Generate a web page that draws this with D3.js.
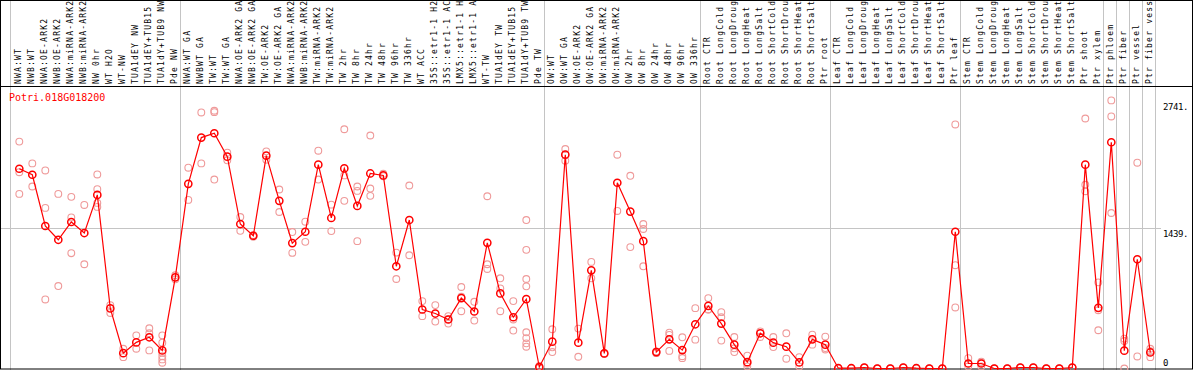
<!DOCTYPE html>
<html>
<head>
<meta charset="utf-8">
<script src="https://cdn.jsdelivr.net/npm/d3@7"></script>
<style>
  body { margin: 0; background: #fff; }
  svg { display: block; }
  text { font-family: "DejaVu Sans Mono", monospace; }
</style>
</head>
<body>
<div id="chart"></div>
<script>
// sample names, one per column
const categories = [
  "NWA:WT", "NWB:WT", "NWA:OE-ARK2", "NWB:OE-ARK2", "NWA:miRNA-ARK2", "NWB:miRNA-ARK2",
  "NW 0hr", "WT H2O", "WT-NW", "TUA1dEY NW", "TUA1dEY+TUB15 NW", "TUA1dY+TUB9 NW", "Pde NW",
  "NWA:WT GA", "NWBWT GA", "TW:WT", "TW:WT GA", "NWA:OE-ARK2 GA", "NWB:OE-ARK2 GA",
  "TW:OE-ARK2", "TW:OE-ARK2 GA", "NWA:miRNA-ARK2", "NWB:miRNA-ARK2", "TW:miRNA-ARK2",
  "TW:miRNA-ARK2", "TW 2hr", "TW 8hr", "TW 24hr", "TW 48hr", "TW 96hr", "TW 336hr",
  "WT ACC", "35S::etr1-1 H2O", "35S::etr1-1 ACC", "LMX5::etr1-1 H2O", "LMX5::etr1-1 ACC",
  "WT-TW", "TUA1dEY TW", "TUA1dEY+TUB15 TW", "TUA1dY+TUB9 TW", "Pde TW",
  "OW:WT", "OW:WT GA", "OW:OE-ARK2", "OW:OE-ARK2 GA", "OW:miRNA-ARK2", "OW:miRNA-ARK2",
  "OW 2hr", "OW 8hr", "OW 24hr", "OW 48hr", "OW 96hr", "OW 336hr",
  "Root CTR", "Root LongCold", "Root LongDrought", "Root LongHeat", "Root LongSalt",
  "Root ShortCold", "Root ShortDrought", "Root ShortHeat", "Root ShortSalt", "Ptr root",
  "Leaf CTR", "Leaf LongCold", "Leaf LongDrought", "Leaf LongHeat", "Leaf LongSalt",
  "Leaf ShortCold", "Leaf ShortDrought", "Leaf ShortHeat", "Leaf ShortSalt", "Ptr leaf",
  "Stem CTR", "Stem LongCold", "Stem LongDrought", "Stem LongHeat", "Stem LongSalt",
  "Stem ShortCold", "Stem ShortDrought", "Stem ShortHeat", "Stem ShortSalt", "Ptr shoot",
  "Ptr xylem", "Ptr phloem", "Ptr fiber", "Ptr vessel", "Ptr fiber vessel"
];

// mean expression per sample
const means = [
  2042, 1981, 1457, 1316, 1498, 1385, 1775, 614, 157, 267,
  319, 185, 932, 1888, 2361, 2405, 2166, 1477, 1357, 2176,
  1714, 1282, 1398, 2084, 1539, 2046, 1662, 1994, 1974, 1045,
  1518, 603, 562, 501, 720, 583, 1285, 768, 524, 709,
  15, 274, 2186, 264, 1004, 154, 1899, 1604, 1302, 168,
  298, 188, 452, 640, 459, 244, 65, 360, 264, 223,
  62, 298, 244, 3, 3, 10, 0, 0, 10, 3,
  0, 0, 1398, 51, 51, 0, 0, 10, 10, 0,
  0, 10, 2084, 620, 2313, 182, 1117, 164
];

// individual replicates per sample
const replicates = [
  [2320, 2007, 1785], [2097, 1861], [2025, 1642, 706], [1785, 843], [1755, 1545, 1179],
  [1672, 1066], [1984, 1833, 1693, 1652], [648, 568], [202, 116], [339, 202],
  [411, 360, 185], [339, 264, 161, 126, 93, 59], [953, 912], [2053, 1724], [2618, 2097],
  [2635, 2621, 1932], [2207, 2128], [1549, 1408], [1364, 1347], [2220, 2135],
  [1830, 1600], [1395, 1182], [1501, 1295], [2227, 1932], [1675, 1405],
  [2446, 1974, 1714], [1861, 1816, 1302], [2382, 1840, 1765], [1991, 1966], [1185, 915],
  [1871, 1158], [689, 535], [648, 480], [535, 504, 459], [833, 733, 586],
  [682, 490], [1761, 1066, 1018], [922, 819, 586], [689, 501, 388],
  [1518, 1213, 915, 840, 370, 311, 257, 223],
  [25, 15, 5], [401, 216, 168], [2244, 2186, 2125], [408, 120], [1090, 922],
  [157, 147], [2186, 1611], [1970, 1241], [1477, 1426, 1045], [175, 157],
  [367, 344, 180], [319, 126, 106], [617, 295], [720, 603, 603], [576, 524, 285],
  [322, 206, 168], [131, 48, 21], [380, 322], [322, 219], [360, 100],
  [116, 21], [346, 244], [326, 209, 195], [5, 2], [4, 2],
  [12, 8], [1, 0], [1, 0], [12, 8], [5, 2],
  [1, 0], [1, 0], [2495, 1056, 624], [106, 21], [70, 62, 21],
  [1, 0], [1, 0], [12, 8], [12, 8], [1, 0],
  [1, 0], [12, 8], [2556, 1878, 1812], [881, 596, 391], [2741, 2577, 1590],
  [305, 281, 0], [2104, 123], [202, 178, 116]
];

// columns where a new tissue group starts
const groupBreaks = [0, 13, 41, 53, 63, 73, 84, 85, 86, 87, 88];

const geneName = "Potri.018G018200";
const yMax = 2741;
const tickValues = [2741, 1439, 0];
const tickLabels = ["2741.", "1439.", "0"];

const width = 1194, height = 370;
const headerH = 86;

const svg = d3.select("#chart").append("svg")
  .attr("width", width)
  .attr("height", height);

// 13px per column
const x = d3.scaleLinear()
  .domain([0, categories.length])
  .range([11, 11 + 13 * categories.length]);
const px = i => x(i) + 8.3;

const y = d3.scaleLinear()
  .domain([0, yMax * 1.05])
  .range([368.5, 87]);

// gray grid
svg.append("line")
  .attr("x1", 1).attr("x2", 1161)
  .attr("y1", Math.round(y(tickValues[1])) + 0.5)
  .attr("y2", Math.round(y(tickValues[1])) + 0.5)
  .attr("stroke", "#c4c4c4");

svg.append("line")
  .attr("x1", 10.5).attr("x2", 10.5)
  .attr("y1", 0).attr("y2", height)
  .attr("stroke", "#c4c4c4");

svg.selectAll(".sep")
  .data(groupBreaks.slice(1))
  .enter().append("line")
  .attr("class", "sep")
  .attr("x1", d => Math.round(x(d)) + 0.5)
  .attr("x2", d => Math.round(x(d)) + 0.5)
  .attr("y1", 0).attr("y2", height)
  .attr("stroke", "#c4c4c4");

// frame
svg.append("rect")
  .attr("x", 0.5).attr("y", 0.5)
  .attr("width", 1192).attr("height", 368.5)
  .attr("fill", "none")
  .attr("stroke", "#000");

svg.append("line")
  .attr("x1", 0).attr("x2", 1193)
  .attr("y1", headerH + 0.5).attr("y2", headerH + 0.5)
  .attr("stroke", "#000");

// rotated sample labels
svg.append("g")
  .selectAll("text")
  .data(categories)
  .enter().append("text")
  .attr("transform", (d, i) => "translate(" + (px(i) + 1.6) + "," + (headerH - 2) + ") rotate(-90)")
  .attr("font-size", "8px")
  .attr("letter-spacing", "1.2px")
  .attr("fill", "#000")
  .text(d => d);

// title
svg.append("text")
  .attr("x", 9).attr("y", 101)
  .attr("font-size", "10px")
  .attr("fill", "#ff0000")
  .text(geneName);

// value labels on the right
const tickDy = [9.5, 9, -2.5];
svg.selectAll(".tick-label")
  .data(tickValues)
  .enter().append("text")
  .attr("class", "tick-label")
  .attr("x", 1163)
  .attr("y", (d, i) => y(d) + tickDy[i])
  .attr("font-size", "9px")
  .attr("letter-spacing", "-0.4px")
  .attr("fill", "#000")
  .text((d, i) => tickLabels[i]);

// replicate points
const repPoints = [];
replicates.forEach((reps, i) => reps.forEach(v => repPoints.push({ i: i, v: v })));

svg.append("g")
  .selectAll("circle")
  .data(repPoints)
  .enter().append("circle")
  .attr("cx", d => px(d.i))
  .attr("cy", d => y(d.v))
  .attr("r", 3.4)
  .attr("fill", "none")
  .attr("stroke", "#ef9a9a")
  .attr("stroke-width", 1.1);

// mean line
const line = d3.line()
  .x((d, i) => px(i))
  .y(d => y(d));

svg.append("path")
  .datum(means)
  .attr("d", line)
  .attr("fill", "none")
  .attr("stroke", "#ff0000")
  .attr("stroke-width", 1.2);

svg.append("g")
  .selectAll("circle")
  .data(means)
  .enter().append("circle")
  .attr("cx", (d, i) => px(i))
  .attr("cy", d => y(d))
  .attr("r", 3.6)
  .attr("fill", "none")
  .attr("stroke", "#ff0000")
  .attr("stroke-width", 1.5);
</script>
</body>
</html>
